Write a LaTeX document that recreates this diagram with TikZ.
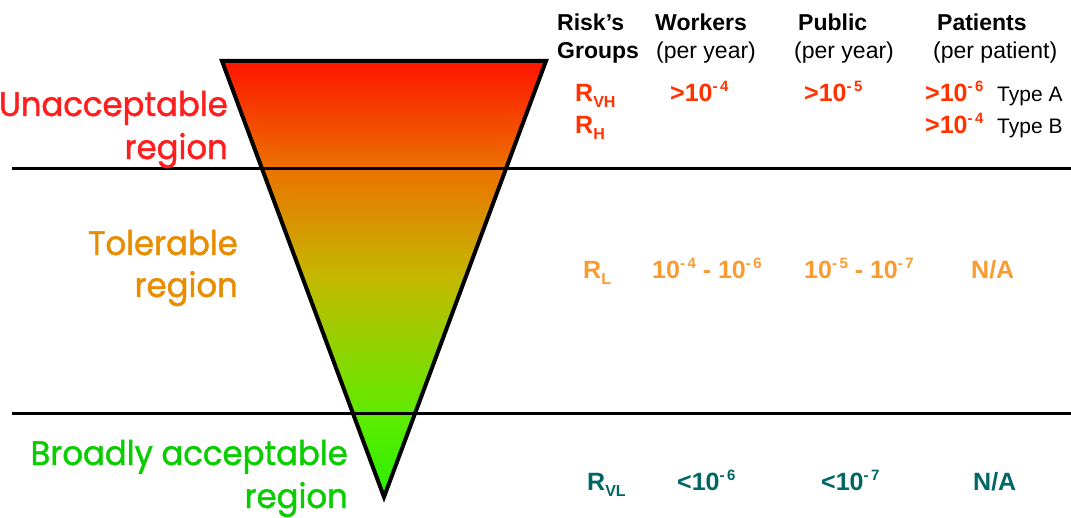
\documentclass[tikz,border=0pt]{standalone}
\usepackage{fontspec}
\setmainfont{Liberation Sans}
\newfontfamily\comic{Poppins}[FakeStretch=0.95,FakeBold=1.3]
\usetikzlibrary{shadings}
\definecolor{gA}{RGB}{40,240,0}
\definecolor{gB}{RGB}{95,235,0}
\definecolor{gC}{RGB}{195,185,0}
\definecolor{gD}{RGB}{235,115,0}
\definecolor{gE}{RGB}{255,20,0}
\definecolor{labred}{RGB}{255,30,30}
\definecolor{laborange}{RGB}{232,140,0}
\definecolor{labgreen}{RGB}{10,205,0}
\definecolor{valred}{RGB}{255,50,0}
\definecolor{valorange}{RGB}{250,155,50}
\definecolor{valteal}{RGB}{0,102,102}
\pgfdeclareverticalshading{riskgrad}{100bp}{color(0bp)=(gA); color(25bp)=(gA); color(34.5bp)=(gB); color(50bp)=(gC); color(62.5bp)=(gD); color(75bp)=(gE); color(100bp)=(gE)}
\newcommand{\rsub}[1]{\raisebox{-6pt}{\fontsize{16}{16}\selectfont #1}}
\newcommand{\rsup}[1]{\raisebox{10pt}{\fontsize{15}{15}\selectfont -\,#1}}
\begin{document}
\begin{tikzpicture}[x=1pt,y=-1pt,
  region/.style={font=\comic\fontsize{34}{40}\selectfont, inner sep=0pt, anchor=base east},
  head/.style={font=\bfseries\fontsize{23}{27}\selectfont, inner sep=0pt, anchor=base west},
  sub/.style={font=\fontsize{23}{27}\selectfont, inner sep=0pt, anchor=base west},
  val/.style={font=\bfseries\fontsize{25}{29}\selectfont, inner sep=0pt, anchor=base west},
  typ/.style={font=\fontsize{21}{25}\selectfont, inner sep=0pt, anchor=base west},
  sep/.style={line width=3pt, black}]
\useasboundingbox (0,0) rectangle (1071,518);
% triangle
\coordinate (tl) at (222,61);
\coordinate (tr) at (546,61);
\coordinate (ap) at (384,497);
\shade[shading=riskgrad] (tl) -- (tr) -- (ap) -- cycle;
\draw[line width=4pt, line join=miter] (tl) -- (tr) -- (ap) -- cycle;
% separators
\coordinate (l1a) at (12,169); \coordinate (l1b) at (1071,169);
\coordinate (l2a) at (12,414); \coordinate (l2b) at (1071,414);
\draw[sep] (l1a) -- (l1b);
\draw[sep] (l2a) -- (l2b);
% region labels
\node[region, text=labred] (u1) at (228,116) {Unacceptable};
\node[region, text=labred] (u2) at (228,159) {region};
\node[region, text=laborange] (t1) at (238,255) {Tolerable};
\node[region, text=laborange] (t2) at (238,297) {region};
\node[region, text=labgreen] (b1) at (348,465) {Broadly acceptable};
\node[region, text=labgreen] (b2) at (348,508) {region};
% headers
\node[head] (h1a) at (557,31) {Risk’s};
\node[head] (h1b) at (557,59) {Groups};
\node[head] (h2a) at (655,31) {Workers};
\node[sub] (h2b) at (656,59) {(per year)};
\node[head] (h3a) at (798,31) {Public};
\node[sub] (h3b) at (794,59) {(per year)};
\node[head] (h4a) at (937,31) {Patients};
\node[sub] (h4b) at (933,59) {(per patient)};
% row 1
\node[val, text=valred] (r1a) at (575,102) {R\rsub{VH}};
\node[val, text=valred] (r1b) at (670,102) {>10\rsup{4}};
\node[val, text=valred] (r1c) at (804,102) {>10\rsup{5}};
\node[val, text=valred] (r1d) at (925,102) {>10\rsup{6}};
\node[typ] (r1e) at (997,102) {Type A};
\node[val, text=valred] (r2a) at (575,134) {R\rsub{H}};
\node[val, text=valred] (r2d) at (925,134) {>10\rsup{4}};
\node[typ] (r2e) at (997,134) {Type B};
% row 2
\node[val, text=valorange] (r3a) at (583,279) {R\rsub{L}};
\node[val, text=valorange] (r3b) at (652,279) {10\rsup{4} - 10\rsup{6}};
\node[val, text=valorange] (r3c) at (804,279) {10\rsup{5} - 10\rsup{7}};
\node[val, text=valorange] (r3d) at (971,279) {N/A};
% row 3
\node[val, text=valteal] (r4a) at (587,490) {R\rsub{VL}};
\node[val, text=valteal] (r4b) at (677,490) {<10\rsup{6}};
\node[val, text=valteal] (r4c) at (821,490) {<10\rsup{7}};
\node[val, text=valteal] (r4d) at (973,490) {N/A};
\end{tikzpicture}
\end{document}
